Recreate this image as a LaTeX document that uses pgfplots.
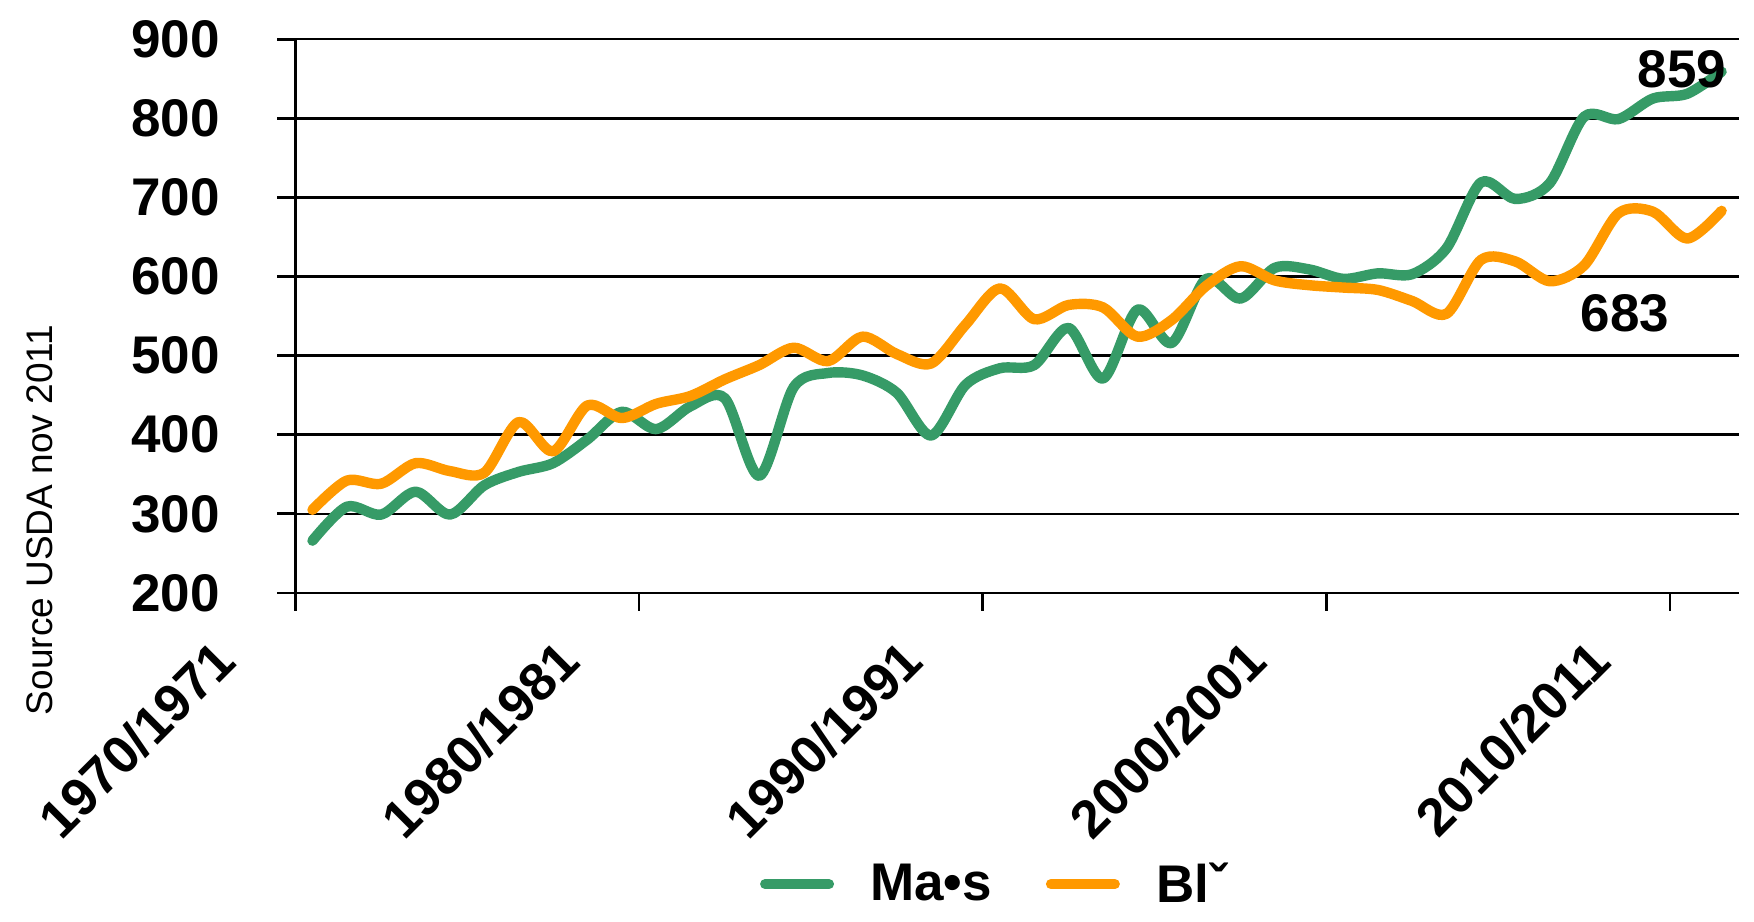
\documentclass[border=0pt]{standalone}
\usepackage{pgfplots}
\pgfplotsset{compat=1.18}
\usepackage{fontspec}
\setmainfont{Liberation Sans}
\definecolor{mais}{RGB}{54,155,103}
\definecolor{ble}{RGB}{255,153,0}
\newcommand\bigfont{\fontsize{26.5bp}{30bp}\selectfont\bfseries}
\begin{document}
\begin{tikzpicture}
\begin{axis}[
  at={(0,0)}, anchor=south west,
  scale only axis, width=721.75bp, height=276.85bp,
  xmin=0, xmax=42, ymin=200, ymax=900,
  clip=false,
  axis lines*=left, axis line style={line width=1.4bp, -},
  ytick={200,300,...,900}, xtick={0,10,20,30,40},
  xticklabels={1970/1971,1980/1981,1990/1991,2000/2001,2010/2011},
  ymajorgrids, grid style={line width=1.25bp, black},
  tick style={line width=1.4bp, black},
  tick align=outside, major tick length=9bp,
  /pgf/number format/assume math mode=true,
  tick label style={font=\bigfont},
  yticklabel style={anchor=east, inner sep=0pt, xshift=-28.6bp},
  xticklabel style={inner sep=0pt, xshift=-42bp, yshift=-12.8bp, rotate=45, anchor=north east},
  legend style={at={(0.485,-0.526)}, anchor=center, draw=none, fill=none,
    legend columns=2, font=\bigfont,
    /tikz/every even column/.append style={column sep=25bp}},
  legend image code/.code={\draw[#1, line width=5bp, line cap=round] (0bp,0bp) -- (32bp,0bp); \path (48bp,0bp);},
]
\addplot[mais, line width=5.2bp, smooth, tension=0.5, line cap=round, line join=round] coordinates {
(0.5,266) (1.5,309) (2.5,299) (3.5,328) (4.5,299) (5.5,336) (6.5,353) (7.5,364)
(8.5,394) (9.5,429) (10.5,407) (11.5,436) (12.5,446) (13.5,348) (14.5,460) (15.5,478)
(16.5,475) (17.5,453) (18.5,399) (19.5,463) (20.5,484) (21.5,488) (22.5,535) (23.5,471)
(24.5,558) (25.5,516) (26.5,597) (27.5,572) (28.5,611) (29.5,609) (30.5,597) (31.5,604)
(32.5,603) (33.5,636) (34.5,719) (35.5,698) (36.5,718) (37.5,802) (38.5,799) (39.5,825)
(40.5,831) (41.5,859)};
\addlegendentry{Ma•s}
\addplot[ble, line width=5.2bp, smooth, tension=0.5, line cap=round, line join=round] coordinates {
(0.5,305) (1.5,342) (2.5,338) (3.5,364) (4.5,354) (5.5,352) (6.5,416) (7.5,379)
(8.5,437) (9.5,421) (10.5,439) (11.5,449) (12.5,470) (13.5,488) (14.5,510) (15.5,493)
(16.5,524) (17.5,502) (18.5,490) (19.5,539) (20.5,585) (21.5,546) (22.5,564) (23.5,561)
(24.5,524) (25.5,545) (26.5,588) (27.5,613) (28.5,595) (29.5,589) (30.5,586) (31.5,583)
(32.5,569) (33.5,553) (34.5,621) (35.5,619) (36.5,594) (37.5,614) (38.5,680) (39.5,682)
(40.5,648) (41.5,683)};
\addlegendentry{Blˇ}
\node[font=\bigfont] at (axis cs:40.35,862) {859};
\node[font=\bigfont] at (axis cs:38.69,554) {683};
\node[rotate=90, font=\fontsize{18.5bp}{22bp}\selectfont] at (rel axis cs:-0.177,0.1317) {Source USDA nov 2011};
\end{axis}
\useasboundingbox (-147.65bp,-164.55bp) rectangle (729.35bp,296.45bp);
\end{tikzpicture}
\end{document}
